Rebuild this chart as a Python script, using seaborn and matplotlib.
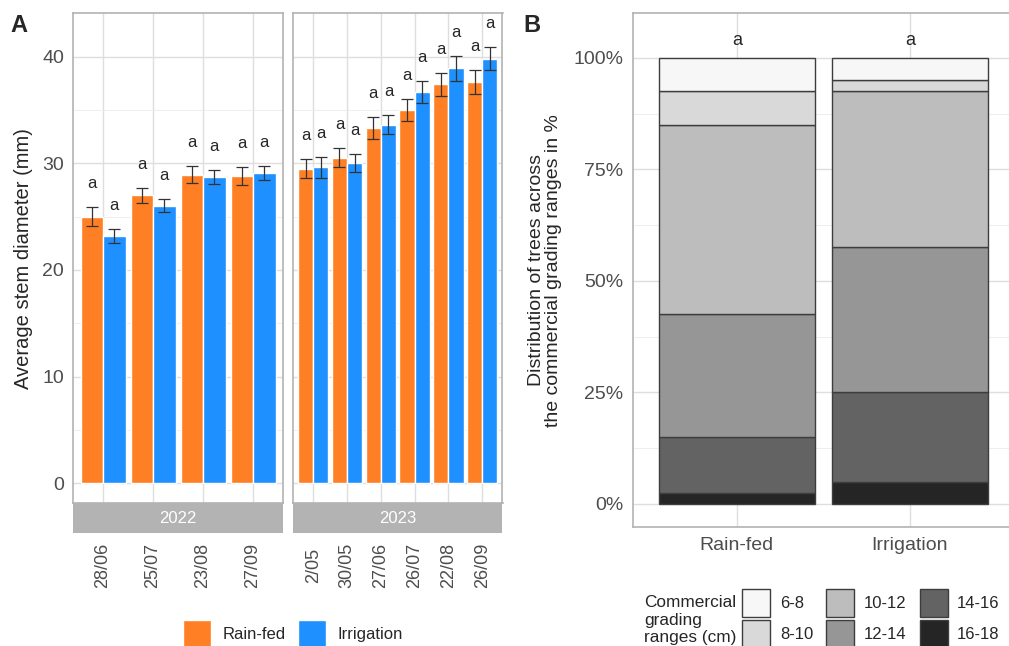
import pandas as pd
import matplotlib
matplotlib.use('Agg')
import matplotlib.pyplot as plt
from matplotlib.patches import Patch
from matplotlib.ticker import FuncFormatter, MultipleLocator
import seaborn as sns

# ---- data ----
treatments = ['Rain-fed', 'Irrigation']

dates_2022 = ['28/06', '25/07', '23/08', '27/09']
rain_2022 = [25.0, 27.0, 28.9, 28.8]
rain_se_2022 = [0.9, 0.7, 0.8, 0.8]
irr_2022 = [23.2, 26.0, 28.7, 29.05]
irr_se_2022 = [0.65, 0.6, 0.65, 0.65]
letters_2022 = [['a', 'a', 'a', 'a'], ['a', 'a', 'a', 'a']]

dates_2023 = ['2/05', '30/05', '27/06', '26/07', '22/08', '26/09']
rain_2023 = [29.5, 30.5, 33.3, 35.0, 37.4, 37.6]
rain_se_2023 = [0.9, 0.9, 1.0, 1.05, 1.1, 1.1]
irr_2023 = [29.6, 30.0, 33.6, 36.7, 38.9, 39.8]
irr_se_2023 = [0.95, 0.85, 0.9, 1.05, 1.15, 1.1]
letters_2023 = [['a'] * 6, ['a'] * 6]

ranges = ['6-8', '8-10', '10-12', '12-14', '14-16', '16-18']
rainfed_pct = [7.5, 7.5, 42.5, 27.5, 12.5, 2.5]
irrigation_pct = [5.0, 2.5, 35.0, 32.5, 20.0, 5.0]
letters_B = ['a', 'a']

pal = {'Rain-fed': '#FF7F24', 'Irrigation': '#1E90FF'}
greys = ['#F7F7F7', '#D9D9D9', '#BDBDBD', '#969696', '#636363', '#252525']

sns.set_style('white')
plt.rcParams['font.family'] = ['Liberation Sans', 'DejaVu Sans']

W, H = 1009, 646
TXT = '#4d4d4d'
BORDER = '#b3b3b3'
GRID = '#dedede'


def box(l, t, r, b):
    return [l / W, 1 - b / H, (r - l) / W, (b - t) / H]


def style_axes(ax):
    for s in ax.spines.values():
        s.set_visible(True)
        s.set_color(BORDER)
        s.set_linewidth(1.2)
    ax.set_axisbelow(True)
    ax.grid(True, which='major', color=GRID, lw=1.0)
    ax.grid(True, which='minor', axis='y', color='#ebebeb', lw=0.6)
    ax.tick_params(which='minor', length=0)


fig = plt.figure(figsize=(W / 100, H / 100), dpi=100)


def facet(panel, strip, year, dates, rain, rain_se, irr, irr_se, letters, first):
    df = pd.DataFrame({
        'date': dates * 2,
        'treatment': ['Rain-fed'] * len(dates) + ['Irrigation'] * len(dates),
        'diameter': rain + irr,
    })
    ax = fig.add_axes(box(*panel))
    sns.barplot(data=df, x='date', y='diameter', hue='treatment', hue_order=treatments,
                palette=pal, width=0.9, gap=0, saturation=1, errorbar=None, ax=ax)
    for cont, se, labs in zip(ax.containers, [rain_se, irr_se], letters):
        xs = [r.get_x() + r.get_width() / 2 for r in cont]
        ys = [r.get_height() for r in cont]
        ax.errorbar(xs, ys, yerr=se, fmt='none', ecolor='#333333', elinewidth=0.9,
                    capsize=4, capthick=0.9)
        for x, y, e, t in zip(xs, ys, se, labs):
            ax.text(x, y + e + 2.2, t, ha='center', va='center', fontsize=12)
    handles, labels = ax.get_legend_handles_labels()
    ax.get_legend().remove()
    ax.set_xlim(-0.6, len(dates) - 0.4)
    ax.set_ylim(-1.85, 44.05)
    ax.yaxis.set_major_locator(MultipleLocator(10))
    ax.yaxis.set_minor_locator(MultipleLocator(5))
    style_axes(ax)
    ax.set_xlabel('')
    ax.tick_params(axis='x', length=0, labelbottom=False)
    if first:
        ax.tick_params(axis='y', length=5, color=BORDER, width=1, labelsize=14,
                       labelcolor=TXT, pad=1.5)
        ax.set_ylabel('Average stem diameter (mm)', fontsize=14.5, va='center')
        ax.yaxis.set_label_coords((24 - panel[0]) / (panel[2] - panel[0]), 0.5)
    else:
        ax.tick_params(axis='y', length=0, labelleft=False)
        ax.set_ylabel('')

    sax = fig.add_axes(box(*strip))
    sax.set_facecolor(BORDER)
    for s in sax.spines.values():
        s.set_visible(False)
    sax.set_xlim(ax.get_xlim())
    sax.set_ylim(0, 1)
    sax.set_yticks([])
    sax.set_xticks(range(len(dates)), dates)
    sax.tick_params(axis='x', length=5, color=BORDER, width=1, pad=18,
                    labelsize=13, labelcolor=TXT)
    plt.setp(sax.get_xticklabels(), rotation=90, va='center', ha='center')
    sax.text(0.5, 0.5, year, transform=sax.transAxes, ha='center', va='center',
             color='white', fontsize=12)
    return handles, labels


handles, labels = facet((73, 13.3, 283, 503), (73, 503, 283, 533.3), '2022',
                        dates_2022, rain_2022, rain_se_2022, irr_2022, irr_se_2022,
                        letters_2022, True)
facet((293, 13.3, 502.5, 503), (293, 503, 502.5, 533.3), '2023',
      dates_2023, rain_2023, rain_se_2023, irr_2023, irr_se_2023, letters_2023, False)

fig.legend(handles, labels, loc='center', bbox_to_anchor=(293 / W, 1 - 634 / H), ncol=2,
           frameon=False, fontsize=12, handlelength=1.68, handleheight=2.24,
           handletextpad=0.7, columnspacing=0.7, borderpad=0, borderaxespad=0)

# ---- panel B ----
dfB = pd.DataFrame({
    'treatment': ['Rain-fed'] * len(ranges) + ['Irrigation'] * len(ranges),
    'range': ranges * 2,
    'share': [p / 100 for p in rainfed_pct + irrigation_pct],
})
axB = fig.add_axes(box(633, 13.3, 1013.6, 527.3))
sns.histplot(data=dfB, x='treatment', hue='range', hue_order=ranges, weights='share',
             multiple='stack', discrete=True, shrink=0.9,
             palette=dict(zip(ranges, greys)), alpha=1, edgecolor='#3d3d3d',
             linewidth=1, legend=False, ax=axB)
axB.set_xlim(-0.6, 1.6)
axB.set_ylim(-0.0525, 1.1)
axB.yaxis.set_major_locator(MultipleLocator(0.25))
axB.yaxis.set_minor_locator(MultipleLocator(0.125))
axB.yaxis.set_major_formatter(FuncFormatter(lambda v, p: f'{v * 100:.0f}%'))
style_axes(axB)
axB.set_xticks(range(len(treatments)), treatments)
axB.tick_params(axis='both', which='major', length=5, color=BORDER, width=1,
                labelsize=14, labelcolor=TXT, pad=2)
for x, t in zip(axB.get_xticks(), letters_B):
    axB.text(x, 1.04, t, ha='center', va='center', fontsize=13)
axB.set_xlabel('')
axB.set_ylabel('Distribution of trees across\nthe commercial grading ranges in %',
               fontsize=14, va='center', ha='center', linespacing=1.05)
axB.yaxis.set_label_coords((545 - 633) / (1013.6 - 633), 0.5)

handlesB = [Patch(facecolor=c, edgecolor='#3d3d3d', lw=1) for c in greys]
fig.legend(handlesB, ranges, loc='center', bbox_to_anchor=(871 / W, 1 - 618.5 / H), ncol=3,
           frameon=False, fontsize=12, handlelength=1.68, handleheight=2.24,
           handletextpad=0.56, columnspacing=0.8, labelspacing=0.15, borderpad=0,
           borderaxespad=0)
fig.text(644 / W, 1 - 620 / H, 'Commercial\ngrading\nranges (cm)', ha='left', va='center',
         fontsize=12.4, linespacing=1.22)

fig.text(10 / W, 1 - 25.5 / H, 'A', fontsize=17, fontweight='bold', va='center')
fig.text(523 / W, 1 - 25.5 / H, 'B', fontsize=17, fontweight='bold', va='center')

fig.savefig('out.png', dpi=100)
